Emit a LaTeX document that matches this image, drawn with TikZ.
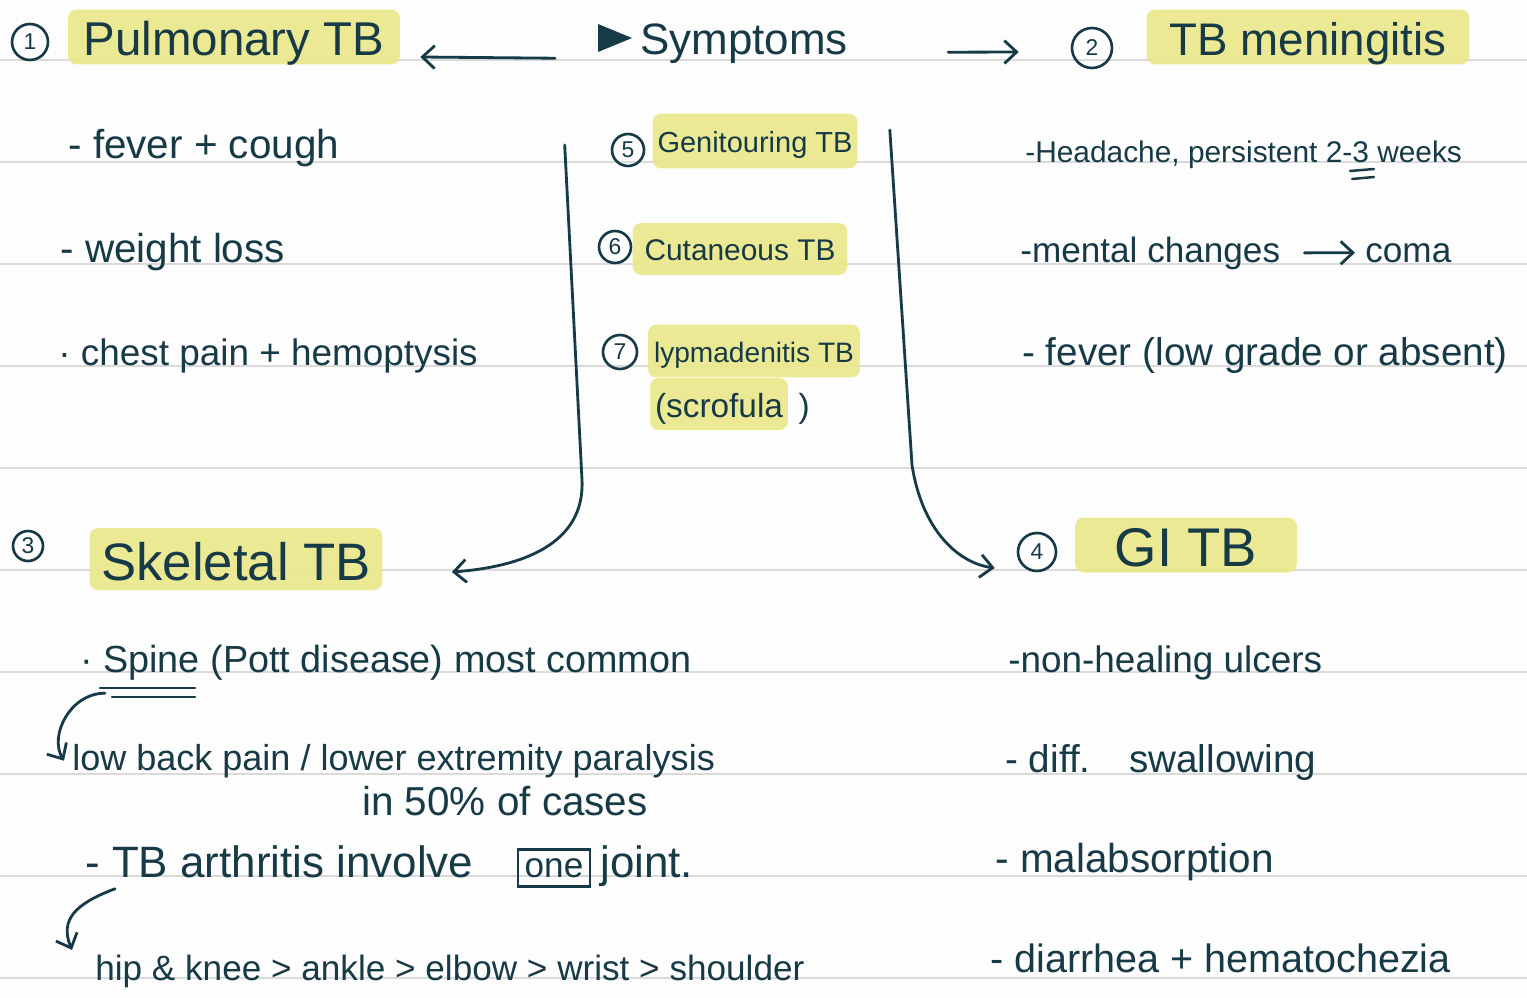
\documentclass[tikz,border=0pt]{standalone}
\usepackage{fontspec}
\setmainfont{Liberation Sans}
\usetikzlibrary{arrows.meta}

\definecolor{ink}{HTML}{173A47}
\definecolor{hlyellow}{HTML}{EBE78A}
\definecolor{ruleline}{HTML}{DADADA}
\definecolor{paper}{HTML}{FDFDFD}

\tikzset{
  note/.style={anchor=base west, inner sep=0pt, text=ink, font=\fontsize{#1}{#1}\selectfont},
  note/.default=22,
  hl/.style={fill=hlyellow, fill opacity=0.9, text opacity=1, rounded corners=5pt,
    inner sep=0pt, text=ink, text depth=0pt, font=\fontsize{#1}{#1}\selectfont,
    execute at begin node={\rule{0pt}{0.8em}}},
  num/.style={circle, draw=ink, line width=1.5pt, inner sep=0pt, text=ink,
    font=\fontsize{13}{13}\selectfont},
  arr/.style={draw=ink, line width=1.6pt, line cap=round,
    -{Straight Barb[length=7pt,width=13pt,line width=1.6pt]}},
  ink line/.style={draw=ink, line width=1.4pt, line cap=round},
  ruled/.style={draw=ruleline, line width=1.1pt}
}

\begin{document}
\begin{tikzpicture}[x=0.02cm, y=-0.02cm]
  \useasboundingbox (0,0) rectangle (1527,997);
  \fill[paper] (0,0) rectangle (1527,997);
  % ruled paper
  \foreach \y in {60,162,...,978}
    \draw[ruled] (0,\y) -- (1527,\y);

  % top row
  \node[num, minimum size=0.72cm] (n1) at (30,42) {1};
  \node[hl=27, minimum width=6.64cm, minimum height=1.1cm] (pulm) at (234,37) {Pulmonary TB};
  \fill[ink] (598,24) -- (598,52) -- (632,38) -- cycle;
  \node[note=25] (symp) at (640,55) {Symptoms};
  \node[num, minimum size=0.8cm] (n2) at (1092,48) {2};
  \node[hl=26, minimum width=6.46cm, minimum height=1.1cm] (mening) at (1308,37) {TB meningitis};

  % pulmonary
  \node[note=23] (cough) at (68,158) {- fever + cough};
  \node[note=23] (weight) at (60,262) {- weight loss};
  \node[note=21] (chest) at (58,365) {· chest pain + hemoptysis};

  % middle
  \node[num, minimum size=0.64cm] (n5) at (628,150) {5};
  \node[hl=16.5, minimum width=4.1cm, minimum height=1.1cm] (gen) at (755,141) {Genitouring TB};
  \node[num, minimum size=0.64cm] (n6) at (615,247) {6};
  \node[hl=17, minimum width=4.3cm, minimum height=1.04cm] (cut) at (740,249) {Cutaneous TB};
  \node[num, minimum size=0.68cm] (n7) at (620,352) {7};
  \node[hl=16, minimum width=4.24cm, minimum height=1.06cm] (lymph) at (754,351) {lypmadenitis TB};
  \node[hl=19, minimum width=2.76cm, minimum height=1.04cm] (scrof) at (719,404) {(scrofula};
  \node[note=19] (paren) at ([xshift=0.2cm]scrof.base east) {)};

  % meningitis
  \node[note=17] (headache) at (1025,162) {-Headache, persistent 2-3 weeks};
  \draw[ink line] (1350,171) -- (1374,169) (1352,179) -- (1374,177);
  \node[note=20] (mental) at (1020,262) {-mental changes};
  \node[note=20] (coma) at (1365,262) {coma};
  \node[note=22] (fever) at (1022,365) {- fever (low grade or absent)};

  % skeletal
  \node[num, minimum size=0.6cm] (n3) at (28,546) {3};
  \node[hl=30, minimum width=5.86cm, minimum height=1.24cm] (skel) at (236,559) {Skeletal TB};
  \node[note=21.5] (spine) at (80,672) {· Spine (Pott disease) most common};
  \draw[ink line] (100,688) -- (195,688) (112,697) -- (195,697);
  \node[note=20.5] (lowback) at (72,770) {low back pain / lower extremity paralysis};
  \node[note=23] (cases) at (362,815) {in 50\% of cases};
  \node[note=25] (arth) at (85,877) {- TB arthritis involve};
  \node[draw=ink, line width=1.3pt, inner sep=0pt, text=ink, font=\fontsize{20}{20}\selectfont,
    minimum width=1.44cm, minimum height=0.74cm] (one) at (554,868) {one};
  \node[note=25] (joint) at (600,877) {joint.};
  \node[note=20] (hip) at (95,980) {hip \& knee > ankle > elbow > wrist > shoulder};

  % GI
  \node[num, minimum size=0.76cm] (n4) at (1037,552) {4};
  \node[hl=31, minimum width=4.44cm, minimum height=1.1cm] (gi) at (1186,545) {GI TB};
  \node[note=21] (ulcer) at (1008,672) {-non-healing ulcers};
  \node[note=22] (swallow) at (1005,772) {- diff.\quad swallowing};
  \node[note=23] (malab) at (995,872) {- malabsorption};
  \node[note=22.5] (diarr) at (990,972) {- diarrhea + hematochezia};

  % arrows
  \draw[arr] ([xshift=-1.7cm,yshift=-0.28cm]symp.west) -- ([xshift=0.4cm,yshift=-0.4cm]pulm.east);
  \draw[arr] ([xshift=2cm,yshift=-0.16cm]symp.east) -- ([xshift=-1.04cm,yshift=-0.08cm]n2.west);
  \draw[arr] ([xshift=-0.92cm,yshift=0.1cm]n5.west) -- (582,480)
    .. controls (585,545) and (520,567) .. ([xshift=1.38cm,yshift=-0.26cm]skel.east);
  \draw[arr] ([xshift=0.64cm,yshift=0.22cm]gen.east) -- (912,465)
    .. controls (922,530) and (958,563) .. ([xshift=-0.44cm,yshift=-0.32cm]n4.west);
  \draw[arr, shorten <=0.48cm, shorten >=0.2cm] (mental.east) -- (coma.west);
  \draw[arr] ([xshift=0.5cm,yshift=-0.26cm]spine.south west)
    .. controls +(-0.7cm,0cm) and +(-0.3cm,0.5cm) .. ([xshift=-0.16cm]lowback.west);
  \draw[arr] ([xshift=0.6cm,yshift=-0.22cm]arth.south west)
    .. controls +(-0.8cm,-0.3cm) and +(-0.25cm,0.6cm) .. ([xshift=-0.46cm,yshift=0.42cm]hip.west);
\end{tikzpicture}
\end{document}
